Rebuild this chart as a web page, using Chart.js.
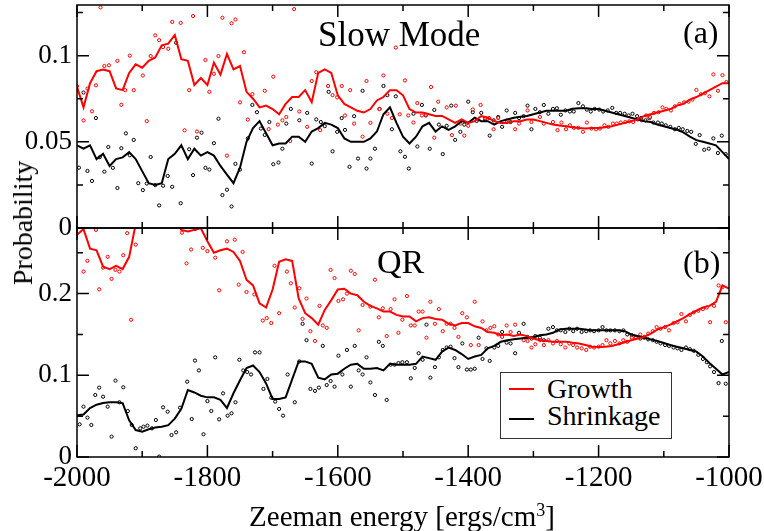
<!DOCTYPE html>
<html>
<head>
<meta charset="utf-8">
<script src="https://cdn.jsdelivr.net/npm/chart.js@4.4.1/dist/chart.umd.min.js"></script>
<style>
  body { margin: 0; background: #fff; font-family: 'Liberation Serif', serif; }
  #wrap { position: relative; width: 764px; height: 531px; color: #000; }
  canvas { position: absolute; left: 0; top: 0; }
  .txt { position: absolute; white-space: nowrap; line-height: 1; font-family: 'Liberation Serif', serif; }
  #legend { position: absolute; left: 500px; top: 372px; width: 170px; height: 65px; border: 1px solid #333; background: #fff; }
  .swatch { position: absolute; left: 8px; width: 25px; height: 2px; }
</style>
</head>
<body>
<div id="wrap">
  <canvas id="qr" width="764" height="531"></canvas>
  <canvas id="slow" width="764" height="250"></canvas>

  <div class="txt" style="left:318px; top:17px; font-size:35px;">Slow Mode</div>
  <div class="txt" style="left:683px; top:16px; font-size:32px;">(a)</div>
  <div class="txt" style="left:377px; top:245px; font-size:34px;">QR</div>
  <div class="txt" style="left:683px; top:246px; font-size:32px;">(b)</div>

  <div class="txt" style="left:23px; top:223px; font-size:28px; transform:translate(-50%,-50%) rotate(-90deg);">Probability</div>
  <div class="txt" style="left:402px; top:501px; font-size:29px; transform:translateX(-50%);">Zeeman energy [ergs/cm<sup style="font-size:18px; vertical-align:10px;">3</sup>]</div>

  <div id="legend">
    <div class="swatch" style="top:15px; background:#ff0000;"></div>
    <div class="txt" style="left:46px; top:2px; font-size:28px;">Growth</div>
    <div class="swatch" style="top:45px; background:#000;"></div>
    <div class="txt" style="left:46px; top:29px; font-size:28px;">Shrinkage</div>
  </div>
</div>

<script>
// energies of the running-average curves
let energies = [
  -2000,-1990,-1980,-1970,-1960,-1950,-1940,-1930,-1920,-1910,
  -1900,-1890,-1880,-1870,-1860,-1850,-1840,-1830,-1820,-1810,
  -1800,-1790,-1780,-1770,-1760,-1750,-1740,-1730,-1720,-1710,
  -1700,-1690,-1680,-1670,-1660,-1650,-1640,-1630,-1620,-1610,
  -1600,-1590,-1580,-1570,-1560,-1550,-1540,-1530,-1520,-1510,
  -1500,-1490,-1480,-1470,-1460,-1450,-1440,-1430,-1420,-1410,
  -1400,-1390,-1380,-1370,-1360,-1350,-1340,-1330,-1320,-1310,
  -1300,-1290,-1280,-1270,-1260,-1250,-1240,-1230,-1220,-1210,
  -1200,-1190,-1180,-1170,-1160,-1150,-1140,-1130,-1120,-1110,
  -1100,-1090,-1080,-1070,-1060,-1050,-1040,-1030,-1020,-1010,
  -1000
];

// (a) Slow Mode curves
let slowGrowthLine = [
  0.082,0.070,0.084,0.091,0.092,0.091,0.081,0.080,0.090,0.095,
  0.093,0.097,0.099,0.106,0.107,0.112,0.098,0.097,0.083,0.087,
  0.083,0.096,0.089,0.101,0.092,0.094,0.079,0.075,0.070,0.071,
  0.069,0.066,0.072,0.076,0.076,0.080,0.073,0.090,0.092,0.090,
  0.077,0.072,0.070,0.068,0.067,0.069,0.074,0.076,0.080,0.080,
  0.077,0.069,0.067,0.067,0.066,0.065,0.065,0.063,0.061,0.063,
  0.061,0.062,0.065,0.064,0.062,0.061,0.061,0.062,0.062,0.063,
  0.063,0.062,0.061,0.060,0.0595,0.059,0.0585,0.058,0.0578,0.058,
  0.058,0.0585,0.059,0.060,0.061,0.062,0.063,0.065,0.066,0.067,
  0.068,0.069,0.071,0.072,0.0745,0.076,0.078,0.080,0.082,0.084,
  0.084
];
let slowShrinkLine = [
  0.048,0.046,0.048,0.040,0.043,0.036,0.040,0.041,0.044,0.040,
  0.033,0.026,0.025,0.026,0.040,0.043,0.048,0.040,0.046,0.042,
  0.044,0.042,0.036,0.031,0.026,0.035,0.050,0.058,0.062,0.055,
  0.048,0.049,0.049,0.053,0.053,0.050,0.056,0.058,0.061,0.060,
  0.058,0.052,0.050,0.050,0.050,0.052,0.056,0.066,0.070,0.061,
  0.053,0.049,0.053,0.059,0.061,0.056,0.059,0.057,0.059,0.062,
  0.061,0.064,0.062,0.062,0.060,0.062,0.063,0.064,0.0645,0.065,
  0.066,0.067,0.068,0.068,0.068,0.068,0.0692,0.0695,0.0695,0.069,
  0.069,0.068,0.067,0.066,0.065,0.064,0.063,0.062,0.0615,0.060,
  0.059,0.058,0.057,0.0555,0.053,0.051,0.050,0.049,0.048,0.044,
  0.040
];

// (b) QR curves
let qrGrowthLine = [
  0.272,0.279,0.255,0.253,0.233,0.230,0.234,0.230,0.245,0.285,
  0.300,0.310,0.310,0.300,0.300,0.290,0.278,0.276,0.278,0.280,
  0.264,0.250,0.253,0.255,0.251,0.240,0.217,0.210,0.188,0.183,
  0.205,0.239,0.242,0.240,0.194,0.176,0.170,0.162,0.180,0.192,
  0.205,0.206,0.200,0.198,0.190,0.185,0.182,0.178,0.178,0.174,
  0.172,0.172,0.166,0.170,0.171,0.169,0.168,0.163,0.161,0.164,
  0.164,0.160,0.158,0.153,0.152,0.149,0.150,0.148,0.150,0.148,
  0.145,0.143,0.142,0.141,0.141,0.141,0.140,0.139,0.137,0.135,
  0.1345,0.135,0.136,0.138,0.1405,0.143,0.145,0.147,0.151,0.156,
  0.159,0.162,0.166,0.170,0.175,0.179,0.183,0.185,0.190,0.210,
  0.206
];
let qrShrinkLine = [
  0.051,0.052,0.060,0.064,0.066,0.067,0.067,0.066,0.045,0.033,
  0.031,0.034,0.036,0.037,0.039,0.047,0.059,0.082,0.079,0.075,
  0.073,0.073,0.070,0.060,0.078,0.094,0.109,0.112,0.104,0.090,
  0.071,0.071,0.073,0.095,0.117,0.117,0.114,0.097,0.095,0.101,
  0.102,0.108,0.113,0.114,0.108,0.108,0.109,0.106,0.114,0.113,
  0.113,0.113,0.114,0.123,0.121,0.119,0.129,0.134,0.131,0.126,
  0.120,0.123,0.125,0.133,0.136,0.141,0.143,0.144,0.145,0.146,
  0.147,0.149,0.150,0.152,0.156,0.157,0.157,0.157,0.156,0.155,
  0.155,0.155,0.155,0.155,0.154,0.150,0.148,0.146,0.144,0.142,
  0.1395,0.137,0.135,0.133,0.131,0.129,0.123,0.115,0.108,0.101,
  0.104
];

// (a) raw points
let slowGrowthDotE = [
  -2000,-1990,-1984,-1977,-1971,-1964,-1958,-1951,-1938,-1932,-1926,-1919,-1913,-1899,-1893,-1887,
  -1880,-1874,-1868,-1860,-1854,-1841,-1835,-1828,-1822,-1816,-1803,-1797,-1790,-1783,-1777,-1770,
  -1763,-1757,-1750,-1744,-1738,-1731,-1712,-1706,-1699,-1692,-1685,-1679,-1673,-1667,-1659,-1647,
  -1640,-1633,-1627,-1615,-1608,-1601,-1594,-1589,-1581,-1575,-1562,-1556,-1550,-1536,-1530,-1524,
  -1517,-1511,-1505,-1497,-1492,-1484,-1478,-1471,-1465,-1457,-1452,-1446,-1433,-1425,-1419,-1412,
  -1406,-1400,-1393,-1381,-1374,-1368,-1361,-1354,-1341,-1328,-1322,-1309,-1303,-1290,-1284,-1270,
  -1263,-1257,-1250,-1244,-1238,-1231,-1224,-1218,-1211,-1204,-1198,-1191,-1185,-1178,-1172,-1166,
  -1159,-1153,-1147,-1140,-1134,-1127,-1121,-1115,-1108,-1102,-1096,-1089,-1083,-1076,-1069,-1062,
  -1056,-1050,-1043,-1037,-1030,-1024,-1017,-1010,-1004
];
let slowGrowthDotP = [
  0.0824,0.0624,0.0809,0.0677,0.0828,0.128,0.094,0.0944,0.097,0.0715,0.080,0.100,0.080,0.0885,0.0620,0.0998,
  0.1118,0.109,0.105,0.104,0.1196,0.119,0.0567,0.080,0.123,0.056,0.0975,0.079,0.0895,0.0998,0.122,0.042,
  0.1188,0.121,0.0729,0.102,0.0629,0.0777,0.0796,0.0574,0.0878,0.060,0.0625,0.0644,0.0505,0.127,0.0676,0.0587,
  0.0853,0.0904,0.0568,0.0824,0.0771,0.0758,0.0824,0.0653,0.080,0.0606,0.053,0.0853,0.061,0.069,0.0885,0.0663,
  0.0638,0.1047,0.066,0.0856,0.0653,0.0612,0.0725,0.0653,0.0657,0.0818,0.0524,0.0733,0.0700,0.0539,0.0710,0.0606,
  0.0536,0.0593,0.0688,0.0714,0.0638,0.0638,0.0573,0.0638,0.0625,0.0573,0.0606,0.0682,0.0615,0.0644,0.0606,0.0615,
  0.0568,0.0612,0.0573,0.0596,0.0581,0.0581,0.0558,0.0612,0.0577,0.0573,0.0577,0.0596,0.0587,0.0606,0.0606,0.0612,
  0.0615,0.0619,0.0615,0.0630,0.0625,0.0653,0.0644,0.0668,0.0672,0.0700,0.0691,0.0682,0.0706,0.0720,0.0729,0.0733,
  0.0745,0.0801,0.0776,0.0782,0.0764,0.0891,0.0796,0.0887,0.0847
];
let slowShrinkDotE = [
  -1997,-1990,-1984,-1977,-1971,-1965,-1958,-1952,-1945,-1938,-1932,-1925,-1919,-1913,-1906,-1899,
  -1893,-1887,-1880,-1874,-1868,-1861,-1854,-1848,-1841,-1828,-1822,-1816,-1809,-1803,-1797,-1790,
  -1783,-1777,-1770,-1763,-1757,-1750,-1738,-1731,-1724,-1718,-1712,-1705,-1699,-1691,-1685,-1679,
  -1672,-1659,-1647,-1640,-1633,-1626,-1620,-1614,-1608,-1601,-1594,-1589,-1582,-1575,-1569,-1562,
  -1556,-1550,-1543,-1536,-1530,-1524,-1517,-1511,-1504,-1497,-1491,-1484,-1478,-1471,-1465,-1459,
  -1452,-1445,-1439,-1433,-1426,-1420,-1412,-1406,-1400,-1393,-1387,-1380,-1374,-1367,-1361,-1354,
  -1348,-1341,-1335,-1328,-1322,-1315,-1309,-1303,-1297,-1290,-1284,-1277,-1270,-1264,-1258,-1251,
  -1244,-1238,-1231,-1224,-1218,-1212,-1206,-1199,-1193,-1186,-1179,-1173,-1167,-1160,-1154,-1148,
  -1141,-1135,-1128,-1122,-1116,-1109,-1103,-1097,-1090,-1083,-1077,-1071,-1064,-1058,-1051,-1045,
  -1038,-1031,-1024,-1017,-1011,-1005
];
let slowShrinkDotP = [
  0.035,0.0786,0.0331,0.0273,0.0638,0.0411,0.0327,0.047,0.0349,0.0232,0.0463,0.0549,0.0422,0.0511,0.0260,0.0220,
  0.0258,0.0412,0.0249,0.0131,0.0245,0.0302,0.0239,0.1075,0.0144,0.0457,0.0307,0.0524,0.0553,0.0349,0.0339,0.0492,
  0.0634,0.0191,0.0222,0.0125,0.0372,0.0339,0.0520,0.0714,0.0672,0.0577,0.054,0.0615,0.037,0.038,0.0460,0.0606,
  0.0691,0.0625,0.0668,0.0374,0.0630,0.0615,0.0591,0.0790,0.0445,0.0558,0.0638,0.0569,0.0355,0.0649,0.0403,0.0796,
  0.0345,0.0403,0.0460,0.0691,0.0824,0.0771,0.0573,0.0764,0.0445,0.0413,0.0345,0.0663,0.0473,0.0714,0.0653,0.0460,
  0.0685,0.0600,0.0429,0.0593,0.0710,0.0511,0.0558,0.0600,0.0733,0.0672,0.0621,0.0668,0.0630,0.0536,0.0625,0.0644,
  0.0587,0.0682,0.0615,0.0668,0.0638,0.0649,0.0710,0.0573,0.0691,0.0672,0.0714,0.0663,0.0691,0.0695,0.0657,0.0682,
  0.0676,0.0676,0.0725,0.0706,0.0687,0.0676,0.0691,0.0687,0.0676,0.0682,0.0697,0.0668,0.0668,0.0663,0.0653,0.0663,
  0.0649,0.0638,0.0625,0.0638,0.0612,0.0612,0.0606,0.0596,0.0587,0.0573,0.0581,0.0573,0.0563,0.0558,0.0488,0.0539,
  0.0454,0.0460,0.0520,0.0435,0.0536,0.0429
];

// (b) raw points
let qrGrowthDotE = [
  -1990,-1984,-1971,-1966,-1960,-1953,-1947,-1941,-1935,-1929,-1923,-1917,-1910,-1839,-1832,-1825,
  -1819,-1807,-1800,-1788,-1782,-1770,-1758,-1752,-1746,-1740,-1728,-1715,-1709,-1702,-1697,-1690,
  -1678,-1672,-1666,-1659,-1654,-1648,-1642,-1635,-1628,-1623,-1617,-1611,-1605,-1599,-1592,-1586,
  -1580,-1574,-1568,-1562,-1550,-1543,-1537,-1531,-1525,-1519,-1513,-1507,-1501,-1494,-1488,-1482,
  -1476,-1470,-1464,-1458,-1451,-1445,-1439,-1433,-1427,-1421,-1415,-1409,-1402,-1396,-1390,-1384,
  -1378,-1372,-1366,-1360,-1354,-1348,-1341,-1335,-1328,-1315,-1309,-1303,-1297,-1290,-1284,-1277,
  -1270,-1264,-1258,-1251,-1245,-1239,-1233,-1226,-1219,-1213,-1207,-1200,-1194,-1188,-1182,-1175,
  -1168,-1162,-1156,-1149,-1143,-1136,-1130,-1124,-1117,-1111,-1105,-1098,-1092,-1085,-1079,-1073,
  -1066,-1060,-1054,-1047,-1040,-1034,-1029,-1023,-1016,-1010,-1005
];
let qrGrowthDotP = [
  0.227,0.240,0.278,0.2052,0.2318,0.245,0.218,0.229,0.227,0.247,0.274,0.168,0.260,0.2746,0.237,0.254,
  0.279,0.256,0.252,0.244,0.204,0.264,0.266,0.211,0.251,0.202,0.199,0.167,0.170,0.164,0.234,0.176,
  0.227,0.2126,0.183,0.2065,0.169,0.194,0.154,0.142,0.185,0.161,0.158,0.229,0.219,0.191,0.193,0.200,
  0.228,0.224,0.155,0.186,0.184,0.217,0.171,0.182,0.148,0.181,0.193,0.152,0.168,0.197,0.161,0.161,
  0.178,0.178,0.146,0.190,0.163,0.181,0.154,0.163,0.163,0.158,0.147,0.176,0.171,0.137,0.190,0.137,
  0.166,0.155,0.158,0.160,0.150,0.147,0.161,0.153,0.162,0.143,0.142,0.134,0.138,0.143,0.137,0.143,
  0.139,0.142,0.138,0.134,0.139,0.137,0.134,0.133,0.131,0.135,0.134,0.135,0.137,0.143,0.139,0.142,
  0.139,0.143,0.141,0.146,0.146,0.150,0.147,0.151,0.154,0.159,0.157,0.159,0.155,0.164,0.165,0.175,
  0.166,0.174,0.177,0.179,0.181,0.183,0.165,0.185,0.210,0.208,0.165
];
let qrShrinkDotE = [
  -1996,-1990,-1984,-1978,-1972,-1966,-1960,-1953,-1947,-1941,-1935,-1929,-1922,-1916,-1910,-1903,
  -1898,-1892,-1885,-1879,-1874,-1868,-1861,-1855,-1848,-1842,-1831,-1824,-1819,-1813,-1806,-1800,
  -1794,-1788,-1782,-1776,-1769,-1763,-1757,-1751,-1745,-1739,-1733,-1727,-1720,-1714,-1708,-1702,
  -1696,-1690,-1684,-1677,-1666,-1659,-1654,-1648,-1642,-1635,-1629,-1623,-1617,-1611,-1605,-1599,
  -1593,-1586,-1580,-1574,-1568,-1562,-1556,-1550,-1543,-1537,-1531,-1525,-1519,-1513,-1507,-1501,
  -1494,-1488,-1482,-1476,-1470,-1464,-1458,-1451,-1445,-1439,-1433,-1427,-1421,-1415,-1409,-1402,
  -1396,-1390,-1384,-1378,-1372,-1367,-1360,-1354,-1348,-1341,-1335,-1328,-1322,-1315,-1309,-1303,
  -1297,-1290,-1284,-1277,-1270,-1264,-1258,-1251,-1245,-1239,-1233,-1226,-1219,-1213,-1207,-1200,
  -1194,-1188,-1182,-1175,-1168,-1162,-1156,-1149,-1143,-1136,-1130,-1124,-1117,-1111,-1105,-1098,
  -1092,-1085,-1079,-1073,-1066,-1060,-1054,-1047,-1040,-1034,-1029,-1023,-1016,-1011,-1005
];
let qrShrinkDotP = [
  0.040,0.0616,0.0482,0.0392,0.0759,0.0849,0.0738,0.0616,0.0249,0.0935,0.0670,0.0853,0.0563,0.0392,0.0107,0.0351,
  0.0371,0.0384,0.0351,0.0453,0.0005,0.0608,0.0555,0.0269,0.0302,0.0604,0.0922,0.0465,0.118,0.106,0.0278,0.0685,
  0.0563,0.122,0.0461,0.0779,0.0506,0.0535,0.0670,0.119,0.106,0.104,0.101,0.128,0.128,0.0833,0.0955,0.0726,
  0.0678,0.0588,0.0506,0.101,0.0670,0.117,0.163,0.143,0.0833,0.0809,0.0849,0.136,0.0881,0.0930,0.0861,0.124,
  0.101,0.131,0.0861,0.136,0.106,0.101,0.122,0.0913,0.0759,0.141,0.136,0.0698,0.113,0.113,0.115,0.116,
  0.116,0.0963,0.109,0.127,0.119,0.162,0.0971,0.110,0.122,0.131,0.134,0.135,0.121,0.110,0.139,0.107,
  0.107,0.108,0.146,0.120,0.133,0.1176,0.134,0.136,0.153,0.140,0.139,0.127,0.152,0.163,0.147,0.145,
  0.148,0.146,0.143,0.157,0.159,0.155,0.155,0.153,0.157,0.154,0.157,0.153,0.154,0.155,0.154,0.155,
  0.159,0.155,0.155,0.155,0.154,0.155,0.150,0.149,0.146,0.145,0.146,0.144,0.143,0.141,0.139,0.137,
  0.136,0.134,0.133,0.131,0.134,0.132,0.130,0.125,0.120,0.116,0.111,0.104,0.0905,0.142,0.0897
];

// tick labels
let xMajor = [-2000, -1800, -1600, -1400, -1200, -1000];
let xTickLabels = ["-2000", "-1800", "-1600", "-1400", "-1200", "-1000"];
let slowMajor = [0, 0.05, 0.1];
let slowTickLabels = ["0", "0.05", "0.1"];
let qrMajor = [0, 0.1, 0.2];
let qrTickLabels = ["0", "0.1", "0.2"];

const RED = "#ff0000";
const BLACK = "#000000";
const FONT = "'Liberation Serif', serif";

Chart.defaults.color = "#000";
Chart.defaults.font.family = FONT;

function findMajor(list, v){
  for(let i=0;i<list.length;i++){
    if(Math.abs(list[i]-v) < 1e-9) return i;
  }
  return -1;
}

function pairs(xs, ys){
  return xs.map((x,i)=>({x:x, y:ys[i]}));
}

// frame + inward ticks on all four sides
function frameTicks(yMajor){
  return {
    id: "frameTicks",
    afterDraw(chart){
      let ctx = chart.ctx;
      let a = chart.chartArea;
      let sx = chart.scales.x, sy = chart.scales.y;
      ctx.save();
      ctx.strokeStyle = "#000";
      ctx.lineWidth = 1.5;
      ctx.beginPath();
      sx.ticks.forEach(t=>{
        let px = sx.getPixelForValue(t.value);
        let len = findMajor(xMajor, t.value) >= 0 ? 12 : 6;
        ctx.moveTo(px, a.bottom); ctx.lineTo(px, a.bottom - len);
        ctx.moveTo(px, a.top); ctx.lineTo(px, a.top + len);
      });
      sy.ticks.forEach(t=>{
        let py = sy.getPixelForValue(t.value);
        let len = findMajor(yMajor, t.value) >= 0 ? 12 : 6;
        ctx.moveTo(a.left, py); ctx.lineTo(a.left + len, py);
        ctx.moveTo(a.right, py); ctx.lineTo(a.right - len, py);
      });
      ctx.stroke();
      ctx.strokeRect(a.left, a.top, a.right - a.left, a.bottom - a.top);
      ctx.restore();
    }
  };
}

function makePanel(id, growthLine, shrinkLine, gE, gP, sE, sP, yMax, yStep, yMajor, yLabels, pad, showX){
  let lineSet = (data, color)=>({
    data: pairs(energies, data), showLine: true, borderColor: color, borderWidth: 2,
    pointRadius: 0, tension: 0, clip: 0
  });
  let dotSet = (xs, ys, color)=>({
    data: pairs(xs, ys), showLine: false, pointRadius: 1.6, pointBorderWidth: 1,
    pointBorderColor: color, pointBackgroundColor: "rgba(255,255,255,0.6)", clip: 0
  });
  return new Chart(document.getElementById(id), {
    type: "scatter",
    data: {
      datasets: [
        lineSet(growthLine, RED),
        lineSet(shrinkLine, BLACK),
        dotSet(gE, gP, RED),
        dotSet(sE, sP, BLACK)
      ]
    },
    options: {
      responsive: false,
      animation: false,
      events: [],
      layout: { padding: pad },
      plugins: { legend: { display: false }, tooltip: { enabled: false } },
      scales: {
        x: {
          type: "linear", min: -2000, max: -1000,
          grid: { display: false, drawTicks: false }, border: { display: false },
          ticks: {
            display: showX, stepSize: 100, autoSkip: false, maxRotation: 0, padding: 4,
            includeBounds: false,
            font: { size: 29, family: FONT },
            callback: v => { let i = findMajor(xMajor, v); return i >= 0 ? xTickLabels[i] : ""; }
          },
          afterFit: s => { s.height = showX ? 74 : 0; s.paddingLeft = 0; s.paddingRight = 0; }
        },
        y: {
          type: "linear", min: 0, max: yMax,
          grid: { display: false, drawTicks: false }, border: { display: false },
          ticks: {
            stepSize: yStep, autoSkip: false, padding: 5, includeBounds: false,
            font: { size: 27, family: FONT },
            callback: v => { let i = findMajor(yMajor, v); return i >= 0 ? yLabels[i] : ""; }
          },
          afterFit: s => { s.width = 77; s.paddingTop = 0; s.paddingBottom = 0; }
        }
      }
    },
    plugins: [frameTicks(yMajor)]
  });
}

makePanel("qr", qrGrowthLine, qrShrinkLine, qrGrowthDotE, qrGrowthDotP, qrShrinkDotE, qrShrinkDotP,
  0.2803, 0.05, qrMajor, qrTickLabels, { top: 228, right: 35, bottom: 0, left: 0 }, true);
makePanel("slow", slowGrowthLine, slowShrinkLine, slowGrowthDotE, slowGrowthDotP, slowShrinkDotE, slowShrinkDotP,
  0.1294, 0.025, slowMajor, slowTickLabels, { top: 1, right: 35, bottom: 22, left: 0 }, false);
</script>
</body>
</html>
